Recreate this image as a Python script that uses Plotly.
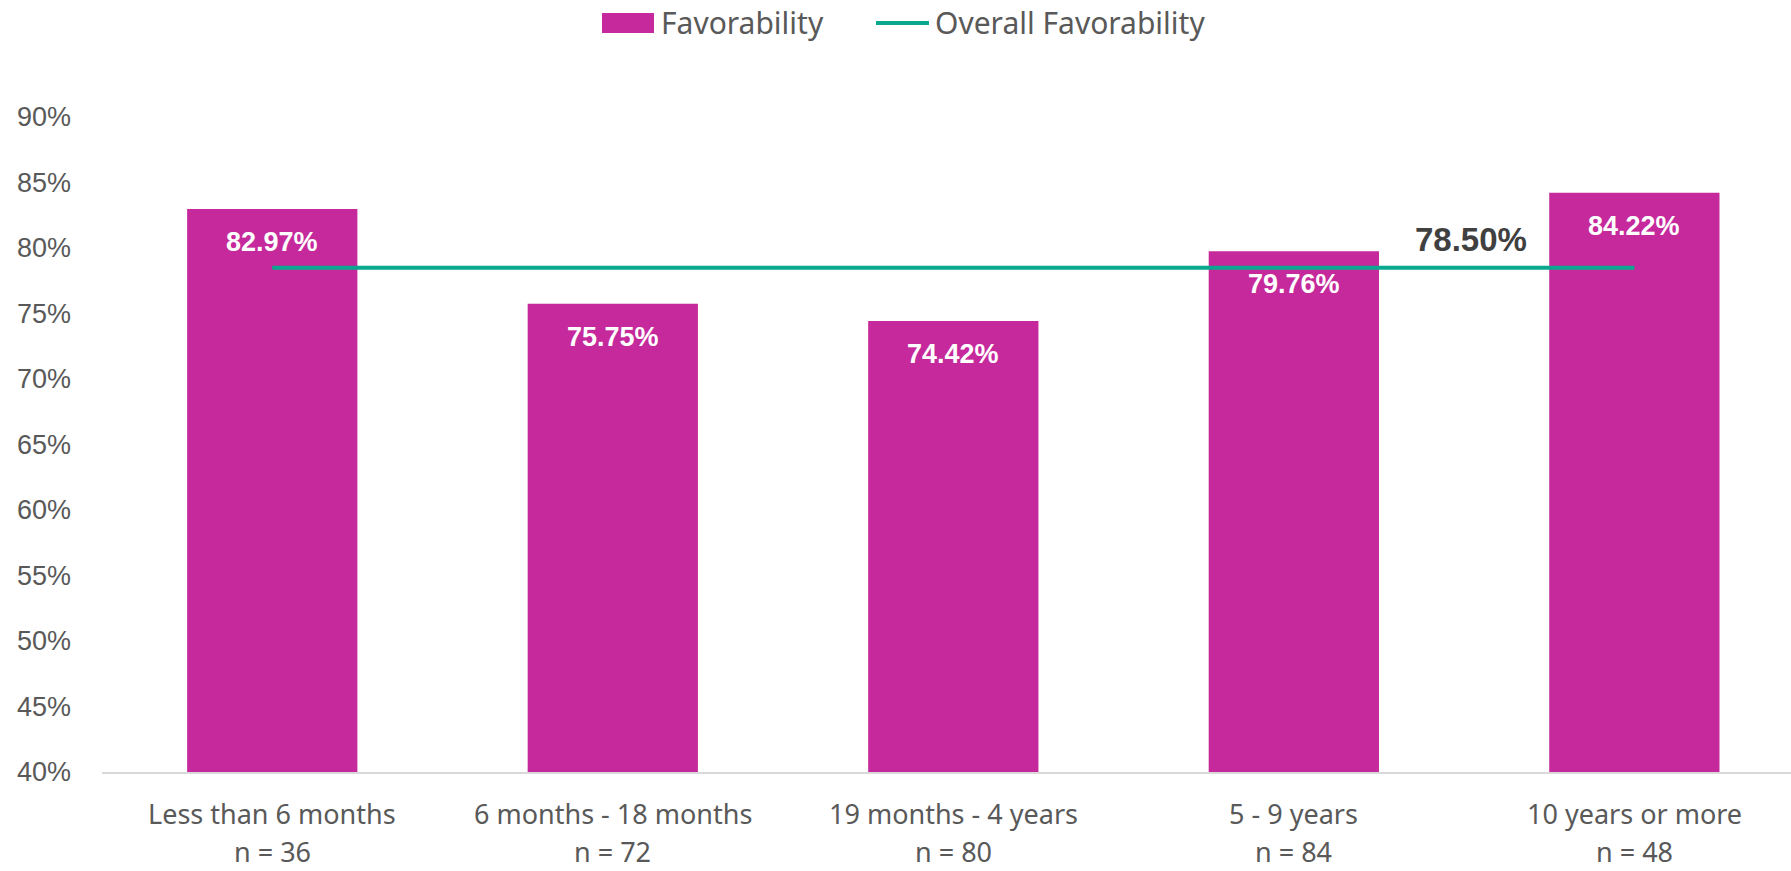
import plotly.graph_objects as go

# Tenure groups, respondent counts and favorability scores
categories = ["Less than 6 months", "6 months - 18 months", "19 months - 4 years",
              "5 - 9 years", "10 years or more"]
respondents = [36, 72, 80, 84, 48]
favorability = [0.8297, 0.7575, 0.7442, 0.7976, 0.8422]
overall_favorability = 0.7850
y_ticks = [0.40, 0.45, 0.50, 0.55, 0.60, 0.65, 0.70, 0.75, 0.80, 0.85, 0.90]

BAR_COLOR = "#C5299B"
LINE_COLOR = "#0AA88F"
TEXT_GRAY = "#595959"
LABEL_FONT = "Noto Sans"
SANS = "Liberation Sans, Arial, sans-serif"

W, H = 1791, 871
M_L, M_R, M_T, M_B = 102, 0, 117, 99


def px_x(px):
    return (px - M_L) / (W - M_L - M_R)


def px_y(py):
    return (H - M_B - py) / (H - M_T - M_B)


def label_font(size):
    return dict(family=LABEL_FONT, size=size, color=TEXT_GRAY)


fig = go.Figure()

fig.add_trace(go.Bar(
    x=categories, y=favorability, width=0.5,
    marker=dict(color=BAR_COLOR, line=dict(width=0)),
    name="Favorability", showlegend=False,
))

fig.add_trace(go.Scatter(
    x=[categories[0], categories[-1]],
    y=[overall_favorability, overall_favorability],
    mode="lines", line=dict(color=LINE_COLOR, width=4),
    name="Overall Favorability", showlegend=False,
))

annotations = []
# value labels inside the top of each bar
for cat, val in zip(categories, favorability):
    annotations.append(dict(
        x=cat, y=val, xref="x", yref="y", text=f"<b>{val * 100:.2f}%</b>",
        showarrow=False, yshift=-33,
        font=dict(family=SANS, size=27, color="white"),
    ))

# overall favorability label
annotations.append(dict(
    x=3.52, y=overall_favorability, xref="x", yref="y",
    text=f"<b>{overall_favorability * 100:.2f}%</b>",
    showarrow=False, yshift=28,
    font=dict(family=SANS, size=33, color="#404040"),
))

# category labels with sample sizes
for cat, n in zip(categories, respondents):
    annotations.append(dict(
        x=cat, y=0, xref="x", yref="paper", text=cat, showarrow=False,
        yanchor="middle", yshift=-41, font=label_font(27),
    ))
    annotations.append(dict(
        x=cat, y=0, xref="x", yref="paper", text=f"n = {n}", showarrow=False,
        yanchor="middle", yshift=-79, font=label_font(27),
    ))

# legend entries
annotations.append(dict(
    x=px_x(659), y=px_y(22), xref="paper", yref="paper", text="Favorability",
    showarrow=False, xanchor="left", yanchor="middle", font=label_font(30),
))
annotations.append(dict(
    x=px_x(933), y=px_y(22), xref="paper", yref="paper", text="Overall Favorability",
    showarrow=False, xanchor="left", yanchor="middle", font=label_font(30),
))

shapes = [
    dict(type="rect", xref="paper", yref="paper",
         x0=px_x(602), x1=px_x(654), y0=px_y(33), y1=px_y(13),
         fillcolor=BAR_COLOR, line=dict(width=0)),
    dict(type="line", xref="paper", yref="paper",
         x0=px_x(876), x1=px_x(929), y0=px_y(23), y1=px_y(23),
         line=dict(color=LINE_COLOR, width=4)),
]

fig.update_layout(
    width=W, height=H,
    margin=dict(l=M_L, r=M_R, t=M_T, b=M_B, pad=0),
    paper_bgcolor="white", plot_bgcolor="white",
    bargap=0.5,
    annotations=annotations, shapes=shapes,
    xaxis=dict(
        type="category", range=[-0.5, 4.46],
        showticklabels=False, ticks="", showgrid=False,
        showline=True, linecolor="#D9D9D9", linewidth=2,
        zeroline=False,
    ),
    yaxis=dict(
        range=[0.40, 0.90], tickvals=y_ticks,
        ticktext=[f"{int(round(v * 100))}%" for v in y_ticks],
        showgrid=False, zeroline=False, showline=False, ticks="",
        tickfont=dict(family=SANS, size=27, color=TEXT_GRAY),
        ticklabelstandoff=30,
    ),
    showlegend=False,
)

fig.write_html("out.html")
